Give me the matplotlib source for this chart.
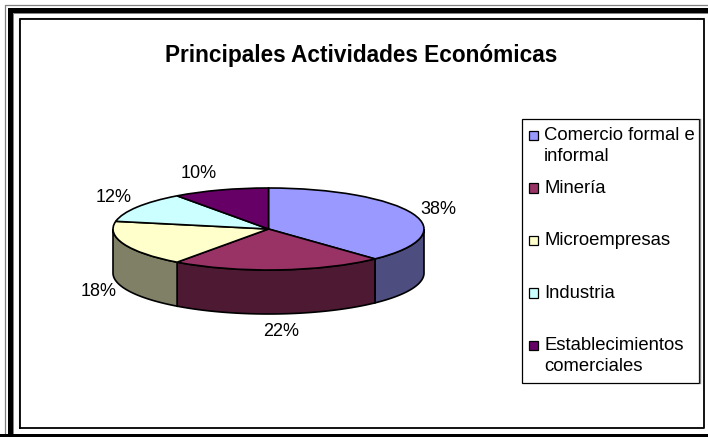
import numpy as np
import matplotlib
matplotlib.use("Agg")
import matplotlib.pyplot as plt
from matplotlib.patches import Rectangle

plt.rcParams['font.family'] = ['Liberation Sans', 'DejaVu Sans']

title = "Principales Actividades Económicas"
categories = ["Comercio formal e\ninformal", "Minería", "Microempresas", "Industria",
              "Establecimientos\ncomerciales"]
values = [38, 22, 18, 12, 10]
colors = ["#9999FF", "#993366", "#FFFFCC", "#CCFFFF", "#660066"]
wall_colors = ["#4D4D80", "#4D1933", "#808066", "#668080", "#330033"]

W, H = 708, 437
fig = plt.figure(figsize=(W/100, H/100), dpi=100, facecolor="white")

# overlay in pixel coordinates for frame, legend and labels
bg = fig.add_axes([0, 0, 1, 1])
bg.set_xlim(0, W)
bg.set_ylim(H, 0)
bg.axis("off")

# double frame round the picture
bg.plot([4.5, 4.5, W], [H, 4.5, 4.5], color="#808080", lw=0.9)
bg.plot([9.5, 9.5, W], [H, 9.5, 9.5], color="black", lw=3.6, solid_joinstyle="miter")
bg.plot([12.5, 12.5, W], [H-4.5, 12.5, 12.5], color="#808080", lw=0.7)
bg.plot([0, W], [436, 436], color="black", lw=3.6)
bg.plot([18.5, 18.5, W-4.5], [427, 18, 18], color="#808080", lw=0.8)
bg.plot([19.5, 19.5, W-4, W-4, 19.5], [427.5, 19, 19, 427.5, 427.5], color="black", lw=1.3)

bg.text(361.5, 55.5, title, ha="center", va="center", fontsize=16.3, fontweight="bold")

# pie: the top face is a circle squashed by the axes shape
cx, cy, rx, ry, depth = 268.5, 229, 155.5, 41, 44
ax = fig.add_axes([(cx-rx)/W, 1-(cy+ry)/H, 2*rx/W, 2*ry/H])
ax.pie(values, colors=colors, startangle=90, counterclock=False, radius=1,
       wedgeprops=dict(edgecolor="black", linewidth=1.2, zorder=3))
ax.set_aspect("auto")
ax.set_xlim(-1, 1)
ax.set_ylim(-1, 1)

# side walls, only the part facing the viewer
ends = 90 - np.cumsum(values)*3.6
starts = np.r_[90, ends[:-1]]
for a0, a1, c in zip(starts, ends, wall_colors):
    hi = min(a0, 0)
    lo = max(a1, -180)
    if hi <= lo:
        continue
    th = np.radians(np.linspace(hi, lo, 60))
    xs = np.cos(th)
    ys = np.sin(th)
    d = depth/ry
    ax.fill(np.r_[xs, xs[::-1]], np.r_[ys, ys[::-1]-d], facecolor=c, edgecolor="black",
            linewidth=1.2, clip_on=False, zorder=1)

# percentage labels
label_xy = [(438, 209.5), (281, 332), (99, 292), (114, 198), (199, 173.5)]
for v, (x, y) in zip(values, label_xy):
    bg.text(x, y, "%d%%" % v, ha="center", va="center", fontsize=13)

# legend box
bg.add_patch(Rectangle((522, 118.5), 177, 264, facecolor="white", edgecolor="black", lw=0.9))
bg.plot([699.5, 699.5], [119, 383], color="#808080", lw=1.0)
for i, (lab, c) in enumerate(zip(categories, colors)):
    top = 127 + i*52.6
    bg.add_patch(Rectangle((528.5, top+3.5), 9.5, 9.5, facecolor=c, edgecolor="black", lw=0.9))
    bg.text(544, top, lab, ha="left", va="top", fontsize=13.3, linespacing=1.28)

fig.savefig("out.png", dpi=100)
